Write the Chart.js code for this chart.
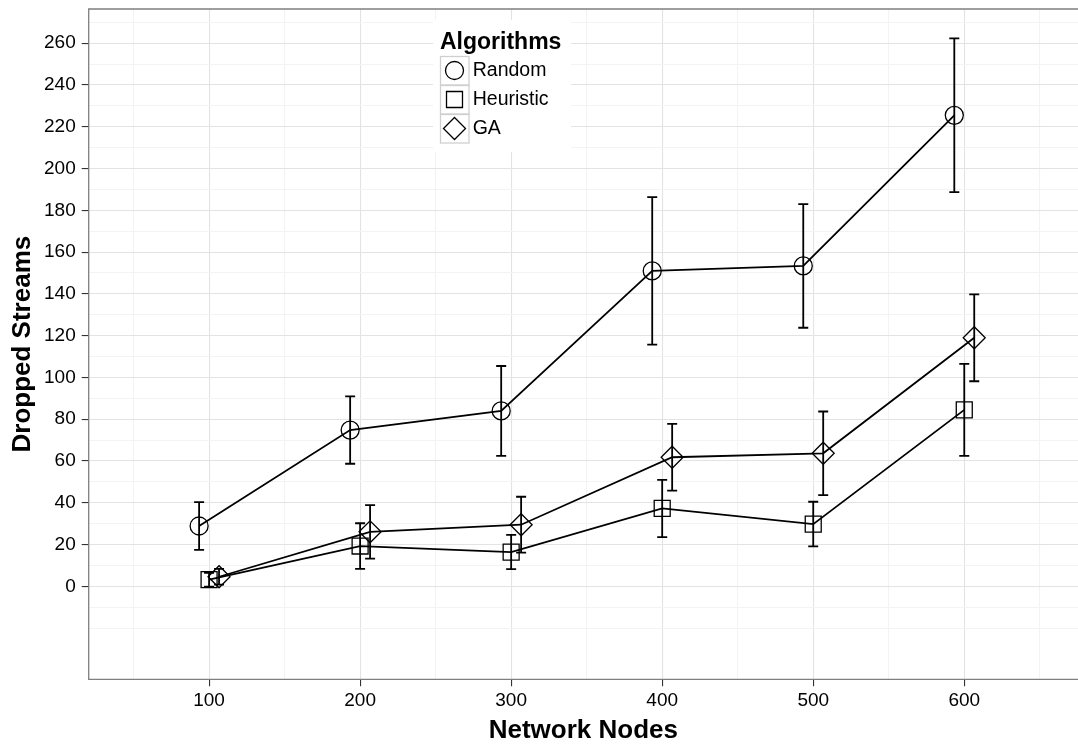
<!DOCTYPE html>
<html><head><meta charset="utf-8">
<script src="https://cdn.jsdelivr.net/npm/chart.js@4/dist/chart.umd.min.js"></script>
<style>html,body{margin:0;padding:0;background:#fff}#wrap{width:1078px;height:747px;position:relative}</style>
</head><body><div id="wrap"><canvas id="c" width="1078" height="747"></canvas></div>
<script>
// ---- data ----
const nodes = [100, 200, 300, 400, 500, 600];
const seriesNames = ['Random', 'Heuristic', 'GA'];
const randomMean = [28.9, 74.8, 84.0, 151.0, 153.4, 225.5];
const randomErr  = [11.4, 16.1, 21.5, 35.3, 29.6, 36.8];
const heurMean   = [3.2, 19.3, 16.4, 37.3, 29.8, 84.5];
const heurErr    = [3.3, 10.9, 8.2, 13.7, 10.7, 22.0];
const gaMean     = [4.6, 26.1, 29.5, 61.8, 63.7, 119.0];
const gaErr      = [3.8, 12.8, 13.4, 16.0, 20.0, 20.8];
const xTickValues = [100, 200, 300, 400, 500, 600];
const yTickValues = [0, 20, 40, 60, 80, 100, 120, 140, 160, 180, 200, 220, 240, 260];
const xTitle = 'Network Nodes';
const yTitle = 'Dropped Streams';
const legendTitle = 'Algorithms';

// ---- styling ----
const dodge = [-6.6, 0, 6.6];
const shapes = ['circle', 'rect', 'rectRot'];
const radii = [9, 11.3, 11];
const means = [randomMean, heurMean, gaMean];
const errs = [randomErr, heurErr, gaErr];
const FONT = "'Liberation Sans', Arial, Helvetica, sans-serif";
Chart.defaults.font.family = FONT;

const xGrid = [];
for (let v = 50; v <= 650; v += 50) xGrid.push(v);
const yGrid = [];
for (let v = -20; v <= 270; v += 10) yGrid.push(v);

const datasets = seriesNames.map((name, i) => ({
  label: name,
  data: nodes.map((n, j) => ({x: n + dodge[i], y: means[i][j]})),
  borderColor: '#000',
  borderWidth: 1.8,
  pointStyle: shapes[i],
  pointRadius: radii[i],
  pointBorderColor: '#000',
  pointBackgroundColor: 'rgba(0,0,0,0)',
  pointBorderWidth: 1.3,
  tension: 0,
  fill: false
}));

const errorBars = {
  id: 'errorBars',
  afterDatasetsDraw(chart) {
    const {ctx, scales: {x, y}} = chart;
    ctx.save();
    ctx.strokeStyle = '#000';
    ctx.lineWidth = 1.8;
    means.forEach((m, i) => {
      m.forEach((v, j) => {
        const px = x.getPixelForValue(nodes[j] + dodge[i]);
        const hi = y.getPixelForValue(v + errs[i][j]);
        const lo = y.getPixelForValue(v - errs[i][j]);
        ctx.beginPath();
        ctx.moveTo(px, hi); ctx.lineTo(px, lo);
        ctx.moveTo(px - 5, hi); ctx.lineTo(px + 5, hi);
        ctx.moveTo(px - 5, lo); ctx.lineTo(px + 5, lo);
        ctx.stroke();
      });
    });
    ctx.restore();
  }
};

const panelBorder = {
  id: 'panelBorder',
  afterDraw(chart) {
    const {ctx, chartArea: a} = chart;
    ctx.save();
    ctx.strokeStyle = '#7f7f7f';
    ctx.lineWidth = 1.3;
    ctx.beginPath();
    ctx.moveTo(a.right + 2, a.top);
    ctx.lineTo(a.left, a.top);
    ctx.lineTo(a.left, a.bottom);
    ctx.lineTo(a.right + 2, a.bottom);
    ctx.stroke();
    ctx.restore();
  }
};

const customLegend = {
  id: 'customLegend',
  afterDraw(chart) {
    const {ctx} = chart;
    ctx.save();
    ctx.fillStyle = '#fff';
    ctx.fillRect(433, 20, 138, 132);
    ctx.fillStyle = '#000';
    ctx.font = 'bold 23px ' + FONT;
    ctx.textBaseline = 'alphabetic';
    ctx.textAlign = 'left';
    ctx.fillText(legendTitle, 440, 48.5);
    chart.data.datasets.forEach((ds, i) => {
      const top = 56 + i * 29;
      ctx.fillStyle = '#fff';
      ctx.fillRect(440, top, 29, 29);
      ctx.strokeStyle = '#cfcfcf';
      ctx.lineWidth = 1.3;
      ctx.strokeRect(440.5, top + 0.5, 28.5, 28.5);
      const cx = 454.5, cy = top + 14.5;
      ctx.strokeStyle = '#000';
      ctx.fillStyle = 'rgba(0,0,0,0)';
      ctx.lineWidth = 1.3;
      if (Chart.helpers && Chart.helpers.drawPoint) {
        Chart.helpers.drawPoint(ctx, {pointStyle: ds.pointStyle, radius: ds.pointRadius, rotation: 0, borderWidth: 1.3}, cx, cy);
      }
      ctx.fillStyle = '#000';
      ctx.font = '19.5px ' + FONT;
      ctx.textBaseline = 'middle';
      ctx.fillText(ds.label, 472.7, cy + 0.5);
    });
    ctx.restore();
  }
};

new Chart(document.getElementById('c'), {
  type: 'line',
  data: {datasets},
  options: {
    responsive: false,
    animation: false,
    layout: {autoPadding: false, padding: {top: 9, right: 0, left: 0, bottom: 0}},
    plugins: {legend: {display: false}, tooltip: {enabled: false}},
    scales: {
      x: {
        type: 'linear',
        min: 20.3, max: 675.3,
        afterBuildTicks: s => { s.ticks = xGrid.map(v => ({value: v})); },
        afterFit: s => { s.height = 67.7; s.paddingLeft = 0; s.paddingRight = 0; },
        border: {display: false},
        grid: {
          color: c => xTickValues.includes(c.tick.value) ? '#e3e3e3' : '#f3f3f3',
          tickColor: c => xTickValues.includes(c.tick.value) ? '#333' : 'rgba(0,0,0,0)',
          tickLength: 7,
          lineWidth: 1.1
        },
        ticks: {
          autoSkip: false, maxRotation: 0,
          callback: v => xTickValues.includes(v) ? String(v) : '',
          color: '#000', padding: 3,
          font: {size: 19}
        },
        title: {display: true, text: xTitle, color: '#000', font: {size: 26, weight: 'bold'}, padding: {top: 0, bottom: 0.5}}
      },
      y: {
        type: 'linear',
        min: -44.5, max: 276.4,
        afterBuildTicks: s => { s.ticks = yGrid.map(v => ({value: v})); },
        afterFit: s => { s.width = 88.7; s.paddingTop = 0; s.paddingBottom = 0; },
        border: {display: false},
        grid: {
          color: c => yTickValues.includes(c.tick.value) ? '#e3e3e3' : '#f3f3f3',
          tickColor: c => yTickValues.includes(c.tick.value) ? '#333' : 'rgba(0,0,0,0)',
          tickLength: 7,
          lineWidth: 1.1
        },
        ticks: {
          autoSkip: false,
          callback: v => yTickValues.includes(v) ? String(v) : '',
          color: '#000', padding: 6,
          font: {size: 19}
        },
        title: {display: true, text: yTitle, color: '#000', font: {size: 26, weight: 'bold'}, padding: {top: 7.4, bottom: 0}}
      }
    }
  },
  plugins: [errorBars, panelBorder, customLegend]
});
</script>
</body></html>
